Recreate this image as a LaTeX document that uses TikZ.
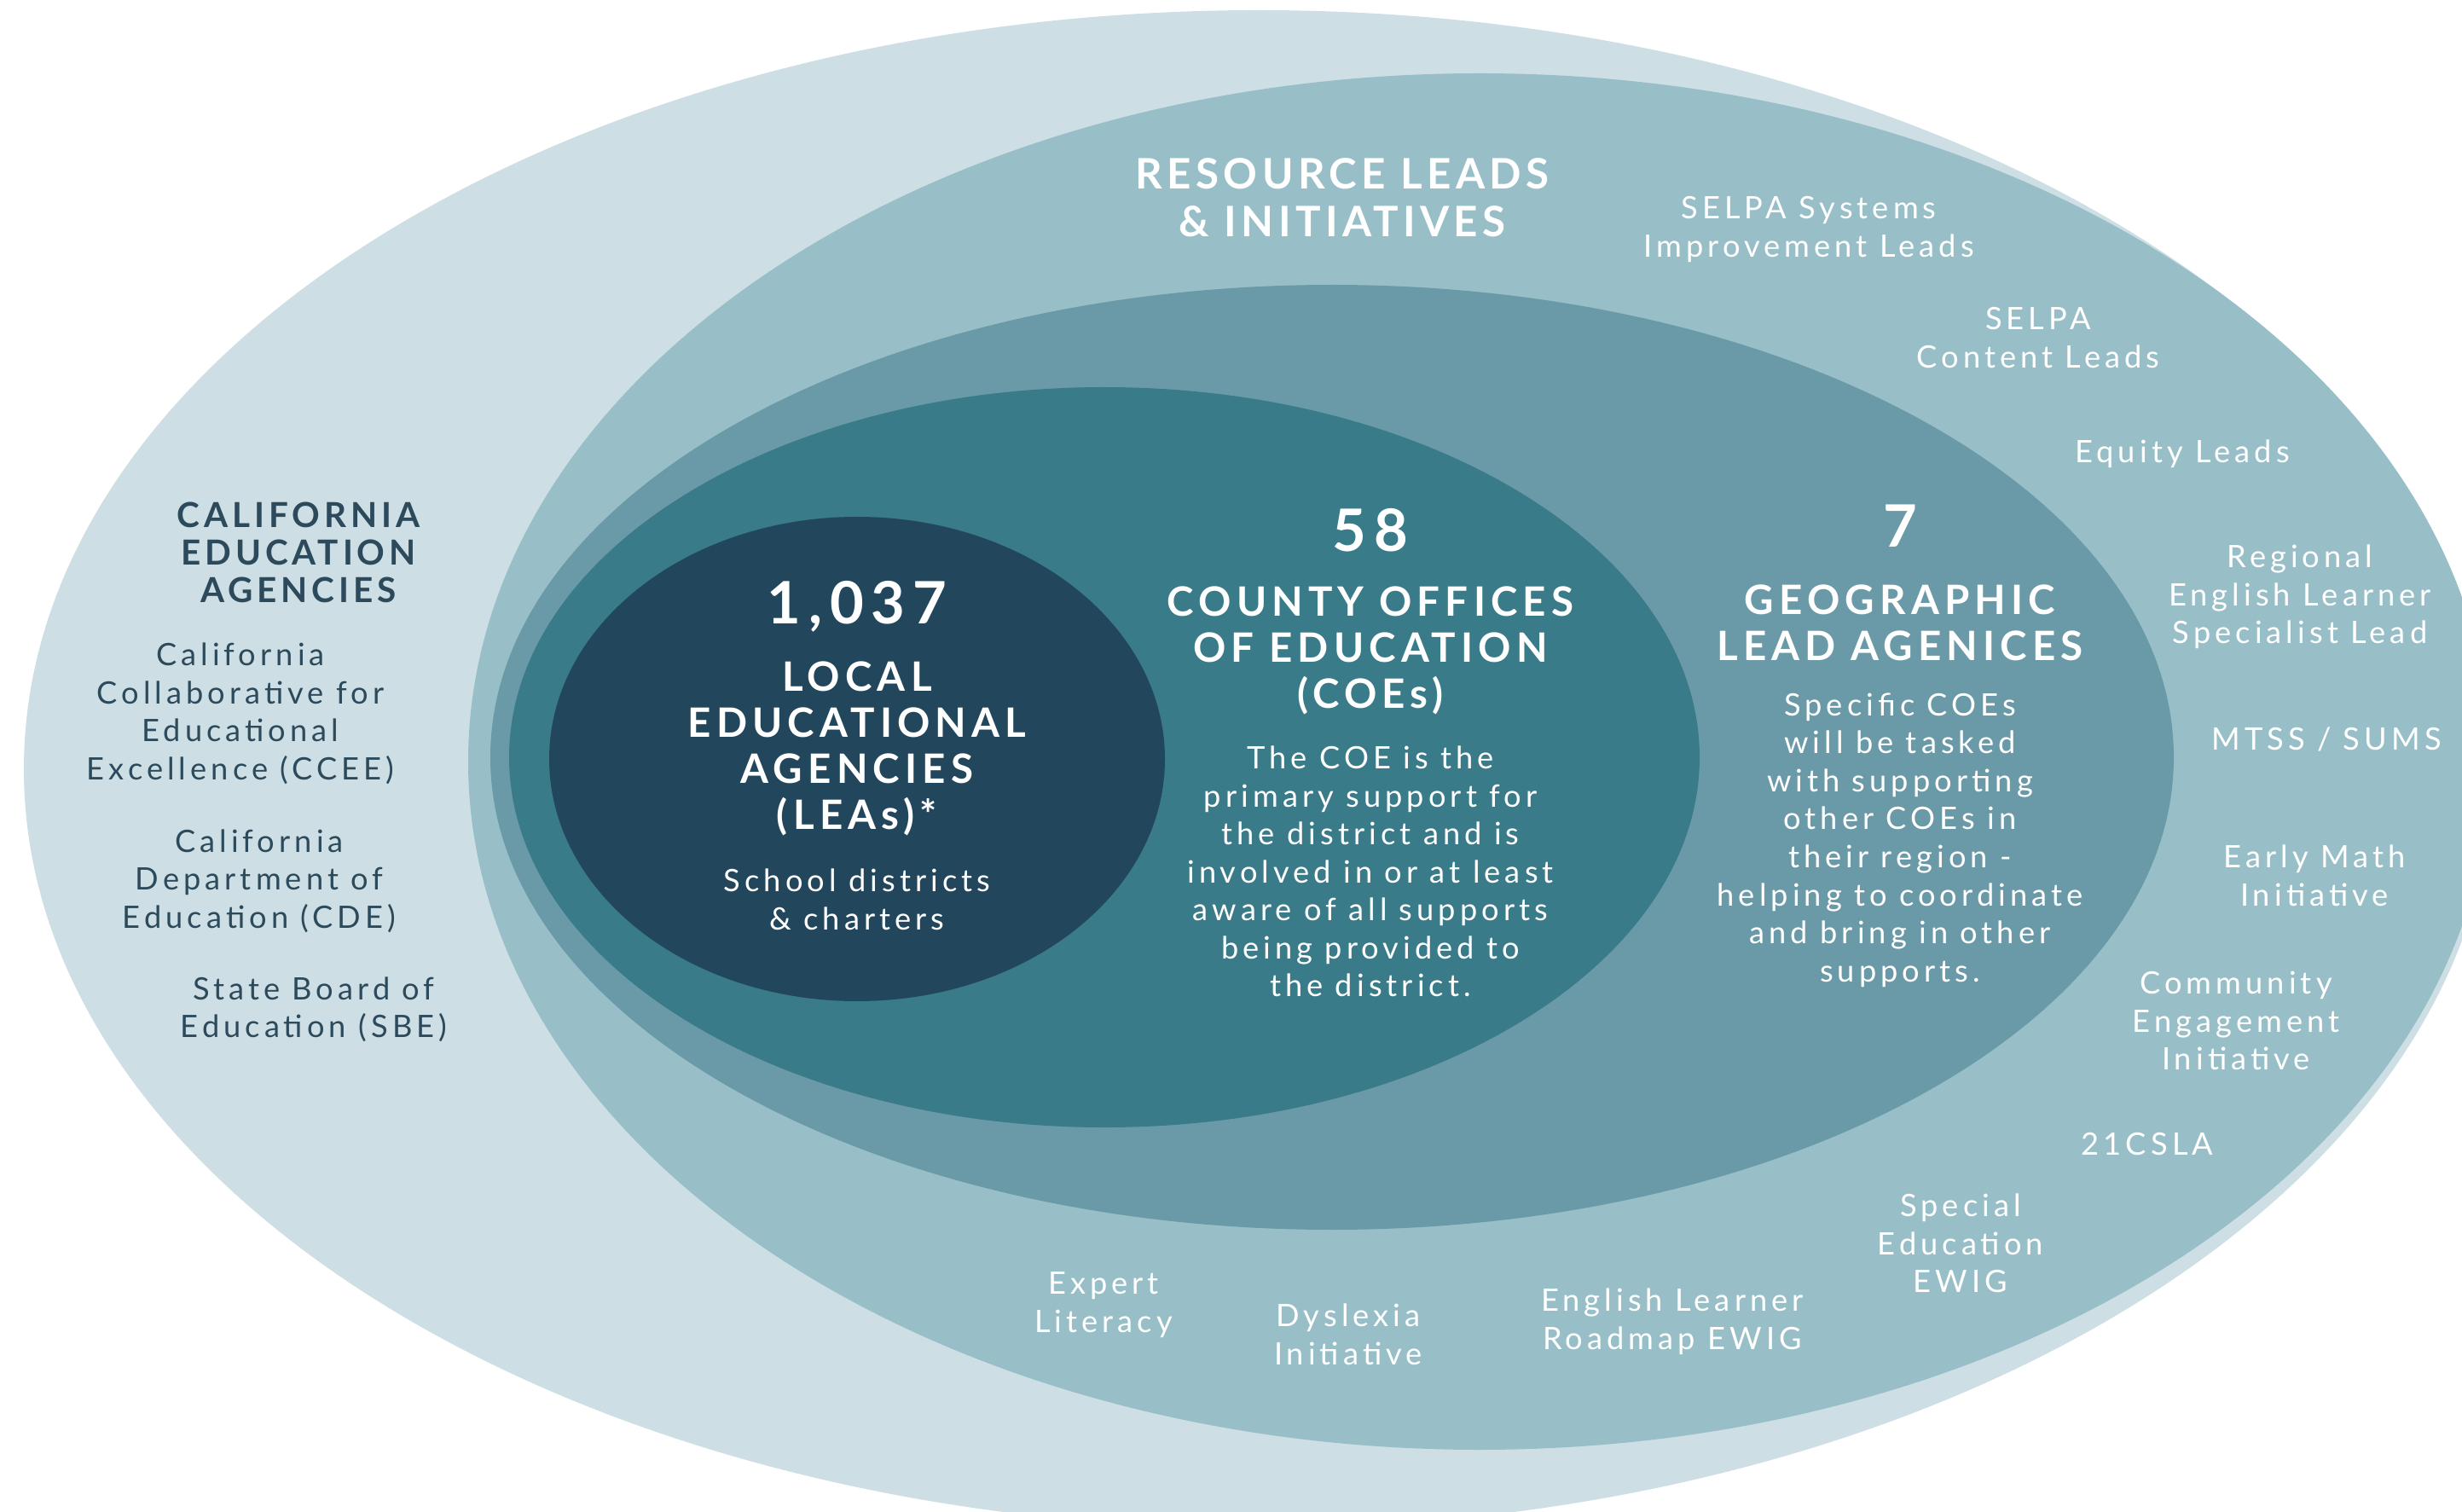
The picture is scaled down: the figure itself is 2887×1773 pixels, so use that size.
\documentclass[tikz,border=0pt]{standalone}
\usepackage{fontspec}
\setmainfont{Lato}
\newfontfamily\bodyfont{Lato}[LetterSpace=14]
\newfontfamily\hdrfont{Lato}[LetterSpace=13]
\newfontfamily\reshdrfont{Lato}[LetterSpace=11]
\newfontfamily\cahdrfont{Lato}[LetterSpace=12]
\definecolor{cLight}{HTML}{CDDFE4}
\definecolor{cMed}{HTML}{98BFC7}
\definecolor{cMid}{HTML}{6A9AA7}
\definecolor{cTeal}{HTML}{3A7B89}
\definecolor{cNavy}{HTML}{22475D}
\definecolor{cText}{HTML}{2C4A5B}
\tikzset{
  bodytxt/.style={align=center, inner sep=0pt, text=white,
    font=\bodyfont\fontsize{10.3}{12.66}\selectfont},
  darkbody/.style={bodytxt, text=cText},
  hdrtxt/.style={align=center, inner sep=0pt, text=white,
    font=\hdrfont\bfseries\fontsize{13.5}{15.36}\selectfont},
  reshdr/.style={align=center, inner sep=0pt, text=white,
    font=\reshdrfont\bfseries\fontsize{14}{15.9}\selectfont},
  darkhdr/.style={align=center, inner sep=0pt, text=cText,
    font=\cahdrfont\bfseries\fontsize{11.5}{12.5}\selectfont},
  numtxt/.style={inner sep=0pt, text=white,
    font=\hdrfont\bfseries\fontsize{19.5}{22}\selectfont},
}
\begin{document}
\begin{tikzpicture}[x=0.01cm,y=-0.01cm]
\clip (0,0) rectangle (2887,1773);
\fill[white] (0,0) rectangle (2887,1773);
% nested ellipses
\fill[cLight] (1476,902) ellipse [x radius=1448, y radius=890];
\fill[cMed] (1735,893) ellipse [x radius=1186, y radius=807];
\fill[cMid] (1562,888) ellipse [x radius=987, y radius=554];
\fill[cTeal] (1295,888) ellipse [x radius=698, y radius=434];
\fill[cNavy] (1005,890) ellipse [x radius=361, y radius=284];

% California education agencies
\node[darkhdr] (caHdr) at (350,648) {CALIFORNIA\\EDUCATION\\AGENCIES};
\node[darkbody] (ccee) at (282,837) {California\\Collaborative for\\Educational\\Excellence (CCEE)};
\node[darkbody] (cde) at (304,1033) {California\\Department of\\Education (CDE)};
\node[darkbody] (sbe) at (368,1184) {State Board of\\Education (SBE)};

% Resource leads & initiatives
\node[reshdr] (resHdr) at (1574,232) {RESOURCE LEADS\\\& INITIATIVES};
\node[bodytxt] (selpaSys) at (2121,269) {SELPA Systems\\Improvement Leads};
\node[bodytxt] (selpaCont) at (2390,396) {SELPA\\Content Leads};
\node[bodytxt] (equity) at (2559,532) {Equity Leads};
\node[bodytxt] (regional) at (2697,700) {Regional\\English Learner\\Specialist Lead};
\node[bodytxt] (mtss) at (2728,867) {MTSS / SUMS};
\node[bodytxt] (earlyMath) at (2714,1027) {Early Math\\Initiative};
\node[bodytxt] (community) at (2622,1197) {Community\\Engagement\\Initiative};
\node[bodytxt] (csla) at (2518,1342) {21CSLA};
\node[bodytxt] (specEd) at (2299,1458) {Special\\Education\\EWIG};
\node[bodytxt] (elRoad) at (1961,1550) {English Learner\\Roadmap EWIG};
\node[bodytxt] (dyslexia) at (1581,1565) {Dyslexia\\Initiative};
\node[bodytxt] (expert) at (1294,1530) {Expert\\Literacy};

% Geographic lead agencies
\node[numtxt] (seven) at (2228,617) {7};
\node[hdrtxt] (geoHdr) at (2228,730) {GEOGRAPHIC\\LEAD AGENICES};
\node[bodytxt] (geoBody) at (2228,985) {Specific COEs\\will be tasked\\with supporting\\other COEs in\\their region -\\helping to coordinate\\and bring in other\\supports.};

% County offices of education
\node[numtxt] (n58) at (1607,622) {58};
\node[hdrtxt] (coeHdr) at (1607,763) {COUNTY OFFICES\\OF EDUCATION\\(COEs)};
\node[bodytxt] (coeBody) at (1607,1022) {The COE is the\\primary support for\\the district and is\\involved in or at least\\aware of all supports\\being provided to\\the district.};

% Local educational agencies
\node[numtxt] (n1037) at (1005,711) {1,037};
\node[hdrtxt] (leaHdr) at (1005,878) {LOCAL\\EDUCATIONAL\\AGENCIES\\(LEAs)*};
\node[bodytxt] (leaBody) at (1005,1055) {School districts\\\& charters};
\end{tikzpicture}
\end{document}
